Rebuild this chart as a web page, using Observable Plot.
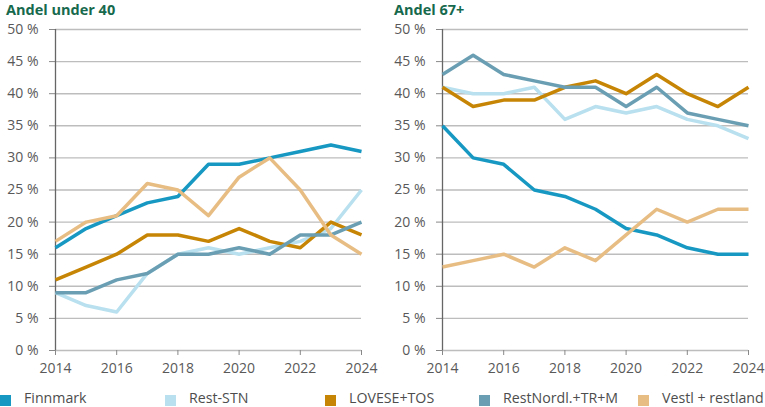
<!DOCTYPE html>
<html>
<head>
<meta charset="utf-8">
<script src="https://cdn.jsdelivr.net/npm/d3@7"></script>
<script src="https://cdn.jsdelivr.net/npm/@observablehq/plot@0.6"></script>
<style>
  html, body { margin: 0; padding: 0; background: #fff; }
  body { width: 765px; height: 407px; overflow: hidden; font-family: "Open Sans", sans-serif; position: relative; }
  #panels { display: flex; }
  .panel { position: relative; }
  .title { height: 18px; font-size: 14.5px; font-weight: bold; color: #17694d; line-height: 20px; white-space: nowrap; overflow: visible; position: relative; z-index: 2; }
  #legend { position: absolute; top: 387.5px; left: 0; width: 765px; height: 19.5px; font-size: 14.2px; color: #4d4d4d; }
  .item { position: absolute; top: 0; height: 19.5px; display: flex; align-items: flex-end; white-space: nowrap; }
  .item span { line-height: 19.5px; }
  .sw { width: 11px; height: 11px; margin-right: 13px; margin-bottom: 1px; }
</style>
</head>
<body>
<div id="panels"></div>
<div id="legend"></div>
<script>
const years = [2014, 2015, 2016, 2017, 2018, 2019, 2020, 2021, 2022, 2023, 2024];
const seriesNames = ["Finnmark", "Rest-STN", "LOVESE+TOS", "RestNordl.+TR+M", "Vestl + restland"];
const seriesColors = ["#1798c2", "#b8e0ee", "#c78505", "#6a9fb3", "#e8bd84"];
const panelTitles = ["Andel under 40", "Andel 67+"];
const yTicks = [0, 5, 10, 15, 20, 25, 30, 35, 40, 45, 50];
const xTicks = [2014, 2016, 2018, 2020, 2022, 2024];

// Andel under 40 (%)
const under40_Finnmark = [16, 19, 21, 23, 24, 29, 29, 30, 31, 32, 31];
const under40_RestSTN  = [9, 7, 6, 12, 15, 16, 15, 16, 17, 19, 25];
const under40_LOVESE   = [11, 13, 15, 18, 18, 17, 19, 17, 16, 20, 18];
const under40_RestNord = [9, 9, 11, 12, 15, 15, 16, 15, 18, 18, 20];
const under40_Vestl    = [17, 20, 21, 26, 25, 21, 27, 30, 25, 18, 15];

// Andel 67+ (%)
const over67_Finnmark = [35, 30, 29, 25, 24, 22, 19, 18, 16, 15, 15];
const over67_RestSTN  = [41, 40, 40, 41, 36, 38, 37, 38, 36, 35, 33];
const over67_LOVESE   = [41, 38, 39, 39, 41, 42, 40, 43, 40, 38, 41];
const over67_RestNord = [43, 46, 43, 42, 41, 41, 38, 41, 37, 36, 35];
const over67_Vestl    = [13, 14, 15, 13, 16, 14, 18, 22, 20, 22, 22];

const panelSeries = [
  [under40_Finnmark, under40_RestSTN, under40_LOVESE, under40_RestNord, under40_Vestl],
  [over67_Finnmark, over67_RestSTN, over67_LOVESE, over67_RestNord, over67_Vestl]
];

function toRows(seriesList) {
  const rows = [];
  seriesList.forEach((vals, si) => {
    vals.forEach((v, i) => rows.push({ year: years[i], value: v, series: seriesNames[si] }));
  });
  return rows;
}

const layout = [
  { width: 380, marginLeft: 55, marginRight: 19, titleIndent: 6 },
  { width: 385, marginLeft: 62, marginRight: 17, titleIndent: 14 }
];

const panelsEl = document.getElementById("panels");
panelTitles.forEach((title, p) => {
  const L = layout[p];
  const div = document.createElement("div");
  div.className = "panel";
  div.style.width = L.width + "px";
  const t = document.createElement("div");
  t.className = "title";
  t.style.paddingLeft = L.titleIndent + "px";
  t.textContent = title;
  div.appendChild(t);
  const rows = toRows(panelSeries[p]);
  const chart = Plot.plot({
    width: L.width,
    height: 362,
    marginTop: 11,
    marginBottom: 30,
    marginLeft: L.marginLeft,
    marginRight: L.marginRight,
    style: { fontFamily: "Open Sans, sans-serif", fontSize: "14px", color: "#595959", background: "transparent", overflow: "visible" },
    x: { domain: [2014, 2024], label: null },
    y: { domain: [0, 50], label: null },
    color: { domain: seriesNames, range: seriesColors },
    marks: [
      Plot.gridY(yTicks, { stroke: "#bdbdbd", strokeOpacity: 1, strokeWidth: 1.4 }),
      Plot.axisY({ ticks: yTicks, tickFormat: d => d + " %", tickSize: 6, tickPadding: 11, stroke: "#888", fill: "#595959", fontSize: 14, label: null }),
      Plot.axisX({ ticks: xTicks, tickFormat: d => String(d), tickSize: 5, tickPadding: 8, stroke: "#888", fill: "#595959", fontSize: 14, label: null }),
      Plot.ruleX([2014], { stroke: "#666", strokeWidth: 1.3 }),
      Plot.line(rows, { x: "year", y: "value", z: "series", stroke: "series", strokeWidth: 3.5, strokeLinejoin: "round", strokeLinecap: "butt" })
    ]
  });
  div.appendChild(chart);
  panelsEl.appendChild(div);
});

const legendLeft = [0, 165, 325, 479, 638];
const legendEl = document.getElementById("legend");
seriesNames.forEach((name, i) => {
  const item = document.createElement("div");
  item.className = "item";
  item.style.left = legendLeft[i] + "px";
  const sw = document.createElement("div");
  sw.className = "sw";
  sw.style.background = seriesColors[i];
  const tx = document.createElement("span");
  tx.textContent = name;
  item.appendChild(sw);
  item.appendChild(tx);
  legendEl.appendChild(item);
});
</script>
</body>
</html>
